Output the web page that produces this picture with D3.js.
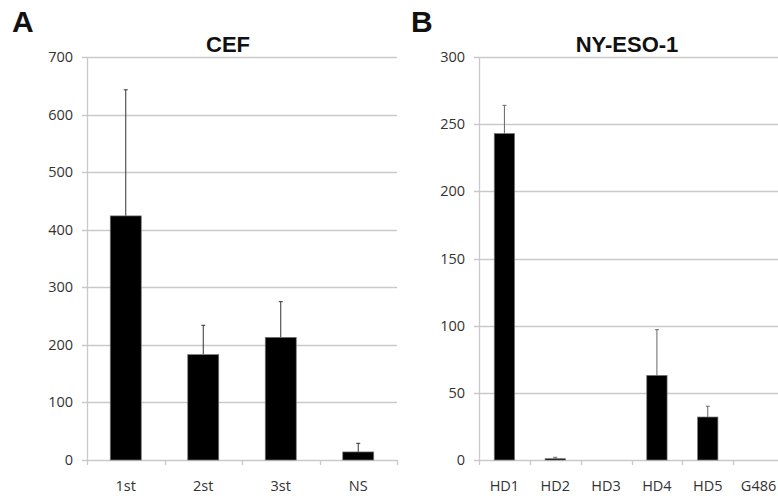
<!DOCTYPE html>
<html>
<head>
<meta charset="utf-8">
<script src="https://cdn.jsdelivr.net/npm/d3@7"></script>
<style>
  html, body { margin: 0; padding: 0; background: #fff; }
  svg { display: block; }
  .tick-label { font-family: "Open Sans", "Liberation Sans", sans-serif; font-size: 14.5px; fill: #333; }
  .title { font-family: "Liberation Sans", Arial, sans-serif; font-weight: bold; font-size: 22px; fill: #111; }
  .panel { font-family: "Liberation Sans", Arial, sans-serif; font-weight: bold; font-size: 30px; fill: #111; }
</style>
</head>
<body>
<svg id="chart" width="778" height="496"></svg>
<script>
// Panel A: CEF responses
const cefCategories = ["1st", "2st", "3st", "NS"];
const cefValues = [424, 183, 213, 14];
const cefErrors = [643, 234, 275, 29];   // upper end of error bar
const cefTicks = [0, 100, 200, 300, 400, 500, 600, 700];

// Panel B: NY-ESO-1 responses
const nyCategories = ["HD1", "HD2", "HD3", "HD4", "HD5", "G486"];
const nyValues = [243, 1, 0, 63, 32, 0];
const nyErrors = [264, 2, 0, 97, 40, 0];
const nyTicks = [0, 50, 100, 150, 200, 250, 300];

const svg = d3.select("#chart");

function drawPanel(opts) {
  const g = svg.append("g");
  const x = d3.scaleBand().domain(opts.categories).range([opts.left, opts.right]).padding(0);
  const y = d3.scaleLinear().domain([0, opts.ymax]).range([460, 57]);
  const grid = "#c9c9c9";

  // horizontal gridlines with short outer tick
  g.selectAll(".grid").data(opts.ticks).enter().append("line")
    .attr("x1", opts.left - 5).attr("x2", opts.right)
    .attr("y1", d => Math.round(y(d)) + 0.5).attr("y2", d => Math.round(y(d)) + 0.5)
    .attr("stroke", grid).attr("stroke-width", 1.3);

  // vertical axis line
  g.append("line")
    .attr("x1", opts.left + 0.5).attr("x2", opts.left + 0.5)
    .attr("y1", y(opts.ymax)).attr("y2", y(0) + 5)
    .attr("stroke", grid).attr("stroke-width", 1.3);

  // category boundary ticks below the baseline
  g.selectAll(".xtick").data(opts.categories).enter().append("line")
    .attr("x1", d => Math.round(x(d) + x.bandwidth()) + 0.5)
    .attr("x2", d => Math.round(x(d) + x.bandwidth()) + 0.5)
    .attr("y1", y(0)).attr("y2", y(0) + 5)
    .attr("stroke", grid).attr("stroke-width", 1.3);

  // y tick labels
  g.selectAll(".ylab").data(opts.ticks).enter().append("text")
    .attr("class", "tick-label")
    .attr("x", opts.left - 14).attr("y", d => y(d) + 5)
    .attr("text-anchor", "end")
    .text(d => d);

  // x category labels
  g.selectAll(".xlab").data(opts.categories).enter().append("text")
    .attr("class", "tick-label")
    .attr("x", d => x(d) + x.bandwidth() / 2).attr("y", 491)
    .attr("text-anchor", "middle")
    .text(d => d);

  const bw = x.bandwidth() * 0.4;
  const data = opts.categories.map((c, i) => ({ c, v: opts.values[i], e: opts.errors[i] }));

  // error bars (upper only)
  const eb = g.selectAll(".err").data(data.filter(d => d.e > d.v)).enter().append("g");
  eb.append("line")
    .attr("x1", d => x(d.c) + x.bandwidth() / 2).attr("x2", d => x(d.c) + x.bandwidth() / 2)
    .attr("y1", d => y(d.v)).attr("y2", d => y(d.e))
    .attr("stroke", opts.errColor).attr("stroke-width", 1);
  eb.append("line")
    .attr("x1", d => x(d.c) + x.bandwidth() / 2 - 2).attr("x2", d => x(d.c) + x.bandwidth() / 2 + 2)
    .attr("y1", d => y(d.e)).attr("y2", d => y(d.e))
    .attr("stroke", opts.errColor).attr("stroke-width", 1);

  // bars
  g.selectAll(".bar").data(data.filter(d => d.v > 0)).enter().append("rect")
    .attr("x", d => x(d.c) + x.bandwidth() / 2 - bw / 2)
    .attr("width", bw)
    .attr("y", d => y(d.v))
    .attr("height", d => y(0) - y(d.v))
    .attr("fill", "#000")
    .attr("stroke", "#777").attr("stroke-width", 0.7);

  // title and panel letter
  svg.append("text").attr("class", "title")
    .attr("x", opts.titleX).attr("y", 52).attr("text-anchor", "middle")
    .text(opts.title);
  svg.append("text").attr("class", "panel")
    .attr("x", opts.letterX).attr("y", 32)
    .text(opts.letter);
}

drawPanel({
  categories: cefCategories, values: cefValues, errors: cefErrors, ticks: cefTicks,
  ymax: 700, left: 87, right: 397, title: "CEF", titleX: 228, letter: "A", letterX: 12,
  errColor: "#333"
});

drawPanel({
  categories: nyCategories, values: nyValues, errors: nyErrors, ticks: nyTicks,
  ymax: 300, left: 479, right: 784, title: "NY-ESO-1", titleX: 627, letter: "B", letterX: 411,
  errColor: "#666"
});
</script>
</body>
</html>
